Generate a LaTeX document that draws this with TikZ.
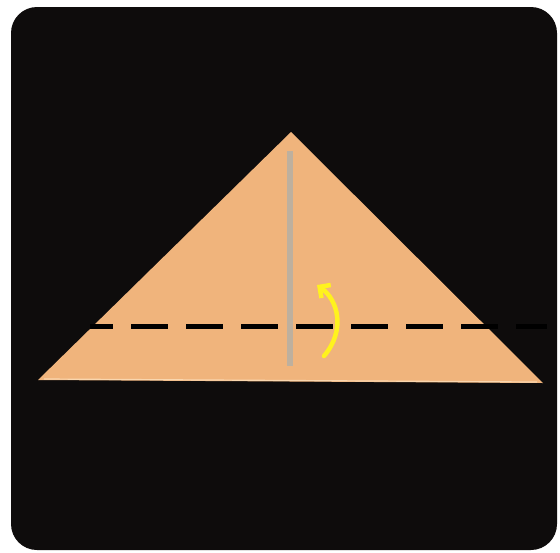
\documentclass[tikz,border=0pt]{standalone}
\usetikzlibrary{arrows.meta,calc}
\definecolor{bgblack}{RGB}{14,12,12}
\definecolor{paper}{RGB}{240,180,124}
\definecolor{paperedge}{RGB}{250,215,175}
\definecolor{crease}{RGB}{190,176,158}
\definecolor{arrowyellow}{RGB}{255,242,30}
\tikzset{
  foldline/.style={line width=5pt, black, dash pattern=on 37pt off 18pt, dash phase=14pt},
  creaseline/.style={line width=5.5pt, crease},
  foldarrow/.style={line width=4.5pt, arrowyellow, line cap=round, -{Straight Barb[length=8pt,width=16pt,line width=4.5pt]}}
}
\begin{document}
\begin{tikzpicture}[x=1pt,y=-1pt]
\useasboundingbox (0,0) rectangle (560,552);
\fill[white] (0,0) rectangle (560,552);
\fill[bgblack, rounded corners=26pt] (11,7) rectangle (557,550);
% paper triangle
\coordinate (apex) at (291,132);
\coordinate (bl) at (38,380);
\coordinate (br) at (543,383);
\fill[paper] (apex) -- (br) -- (bl) -- cycle;
\draw[paperedge, line width=1.2pt] ($(bl)+(6,-1)$) -- ($(br)+(-6,-1)$);
% vertical crease
\coordinate (ct) at (290,151);
\coordinate (cb) at (290,366);
\draw[creaseline] (ct) -- (cb);
% dashed fold line
\coordinate (ds) at (90,326);
\coordinate (de) at (547,326);
\draw[foldline] (ds) -- (de);
% yellow arrow
\coordinate (as) at (324,356);
\coordinate (ae) at (317,285);
\draw[foldarrow] (as) .. controls (346,330) and (338,300) .. (ae);
\end{tikzpicture}
\end{document}
